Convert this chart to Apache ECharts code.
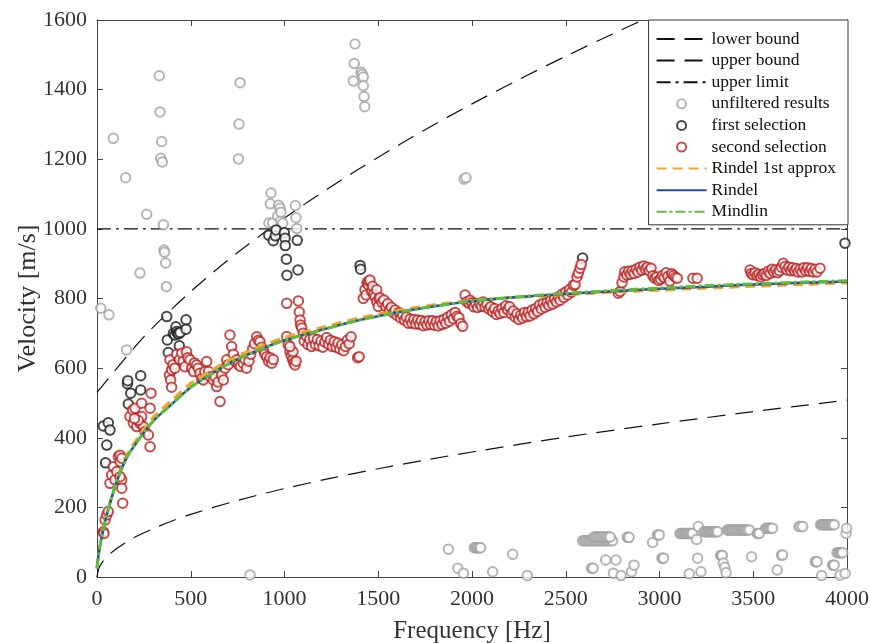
<!DOCTYPE html>
<html>
<head>
<meta charset="utf-8">
<script src="https://cdn.jsdelivr.net/npm/echarts@6/dist/echarts.min.js"></script>
<style>
  html, body { margin: 0; padding: 0; background: #fff; }
  #chart { width: 870px; height: 643px; }
</style>
</head>
<body>
<div id="chart"></div>
<script>
// curves
const boundFreq = [0, 10, 25, 50, 100, 150, 200, 300, 400, 500, 750, 1000, 1250, 1500, 1750, 2000, 2500, 3000, 3500, 4000]
const lowerBound = [0, 25, 40, 57, 80, 98, 114, 139, 161, 180, 220, 254, 284, 311, 336, 359, 402, 440, 475, 508]
const upperFreq = [0, 250, 500, 750, 1000, 1250, 1500, 1750, 2000, 2250, 2500, 2750, 3000]
const upperBound = [530, 690, 820, 932, 1031, 1122, 1206, 1285, 1359, 1429, 1496, 1560, 1622]
const upperLimit = [[0, 1000], [4000, 1000]]

const modelFreq = [0, 10, 25, 50, 100, 150, 200, 300, 400, 500, 600, 700, 800, 900, 1000, 1200, 1400, 1600, 1800, 2000, 2250, 2500, 2750, 3000, 3250, 3500, 3750, 4000]
const rindelApprox = [25, 70, 115, 176, 268, 340, 386, 458, 508, 556, 590, 622, 647, 668, 688, 717, 744, 765, 782, 794, 804, 811, 818, 824, 830, 835, 840, 845]
const rindel = [25, 70, 115, 175, 265, 335, 378, 448, 497, 545, 580, 612, 638, 660, 680, 710, 738, 760, 778, 792, 804, 813, 821, 828, 834, 840, 845, 849]
const mindlin = [25, 70, 115, 175, 265, 335, 378, 448, 497, 545, 580, 612, 638, 660, 680, 710, 738, 760, 778, 793, 805, 815, 823, 830, 837, 842, 847, 851]

// measured points [frequency, velocity]
const unfiltered = [
  [20, 772], [64, 753], [158, 652], [87, 1260], [153, 1147], [229, 873], [265, 1042],
  [332, 1440], [336, 1336], [345, 1251], [340, 1203], [348, 1192], [354, 1012], [357, 939], [360, 933], [366, 902], [370, 834],
  [754, 1201], [757, 1301], [763, 1420],
  [917, 1017], [924, 1072], [928, 1103], [937, 1017], [964, 1037], [969, 1068], [976, 1059], [980, 1023], [981, 1048], [990, 1016],
  [1058, 1067], [1061, 1032], [1065, 1001],
  [1367, 1425], [1372, 1475], [1376, 1531], [1408, 1450], [1415, 1444], [1420, 1436], [1420, 1411], [1424, 1380], [1428, 1351],
  [1957, 1143], [1968, 1147], [816, 6],
  [1874, 80], [1924, 25], [1954, 11], [2110, 15], [2217, 65], [2295, 4],
  [2012, 84], [2018, 84], [2024, 84], [2030, 84], [2036, 84], [2042, 84], [2046, 84],
  [2590, 104], [2598, 104], [2606, 104], [2614, 104], [2622, 104], [2630, 104], [2638, 104], [2646, 104], [2654, 104], [2662, 104],
  [2670, 104], [2678, 104], [2686, 104], [2694, 104], [2702, 104], [2710, 104], [2718, 104], [2726, 104], [2734, 104], [2742, 104], [2750, 104],
  [2650, 115], [2658, 115], [2666, 115], [2674, 115], [2682, 115], [2690, 115], [2698, 115], [2706, 115], [2714, 115], [2722, 115], [2730, 115], [2738, 115],
  [2637, 25], [2642, 25], [2646, 25], [2713, 49], [2754, 11], [2768, 49], [2795, 4],
  [2828, 114], [2833, 114], [2838, 114], [2851, 15], [2864, 34],
  [2963, 99], [2989, 121], [2994, 121], [2999, 121], [3013, 54], [3018, 54], [3022, 54],
  [3109, 125], [3115, 125], [3121, 125], [3127, 125], [3133, 125], [3139, 125], [3145, 125], [3151, 125], [3157, 125], [3163, 125], [3170, 125], [3177, 125],
  [3159, 9], [3198, 108], [3203, 54], [3207, 145], [3221, 15],
  [3237, 130], [3243, 130], [3249, 130], [3255, 130], [3261, 130], [3267, 130], [3273, 130], [3279, 130], [3285, 130], [3291, 130], [3297, 130], [3303, 130], [3310, 130],
  [3326, 62], [3331, 62], [3335, 62], [3340, 40], [3348, 28], [3355, 12],
  [3361, 135], [3367, 135], [3373, 135], [3379, 135], [3385, 135], [3391, 135], [3397, 135], [3403, 135], [3409, 135], [3415, 135],
  [3421, 135], [3427, 135], [3433, 135], [3439, 135], [3445, 135], [3451, 135], [3457, 135], [3463, 135], [3470, 135], [3479, 135],
  [3491, 58], [3522, 125], [3527, 125], [3532, 125],
  [3566, 140], [3572, 140], [3578, 140], [3584, 140], [3590, 140], [3596, 140], [3603, 140],
  [3628, 20], [3651, 63], [3656, 63], [3744, 145], [3752, 145], [3764, 145],
  [3831, 44], [3836, 44], [3840, 44],
  [3859, 150], [3865, 150], [3871, 150], [3877, 150], [3883, 150], [3889, 150], [3895, 150], [3901, 150], [3907, 150], [3913, 150], [3919, 150], [3925, 150], [3932, 150],
  [3865, 4], [3923, 34], [3928, 34], [3932, 34],
  [3947, 70], [3953, 70], [3959, 70], [3965, 70], [3971, 70], [3977, 70], [3963, 5], [3990, 10], [3995, 125], [3998, 140]
]

const firstSelection = [
  [34, 434], [46, 328], [52, 379], [60, 443], [69, 422], [162, 555], [164, 564], [167, 497], [180, 528], [233, 578], [233, 537],
  [372, 748], [375, 681], [380, 645], [407, 700], [415, 695], [421, 719], [425, 705], [430, 700], [435, 698], [443, 702], [439, 664],
  [475, 739], [475, 712],
  [916, 982], [940, 966], [951, 980], [955, 997], [999, 989], [1003, 973], [1004, 952], [1010, 913], [1013, 867], [1068, 967], [1072, 882],
  [1403, 895], [1406, 884], [2590, 916], [3989, 959]
]

const secondSelection = [
  [34, 130], [37, 125], [43, 164], [52, 178], [60, 188], [69, 269], [78, 293], [87, 317], [96, 279], [105, 303], [114, 346],
  [123, 331], [123, 350], [132, 341], [132, 279], [132, 255], [137, 212], [123, 288], [176, 461], [190, 480], [194, 442],
  [203, 485], [212, 432], [229, 442], [238, 461], [238, 499], [247, 432], [256, 418], [274, 408], [283, 374], [283, 485],
  [288, 528], [220, 450], [200, 455],
  [386, 580], [389, 624], [393, 566], [398, 595], [398, 545], [405, 610], [415, 600], [425, 640], [440, 625], [452, 643],
  [460, 620], [469, 604], [478, 647], [485, 630], [496, 624], [505, 600], [515, 590], [520, 615], [531, 609], [540, 600],
  [549, 585], [558, 570], [567, 566], [575, 590], [585, 619], [595, 590], [605, 575], [620, 566], [630, 575], [638, 547],
  [645, 560], [656, 504], [665, 580], [674, 566], [683, 600], [692, 624], [700, 610], [709, 695], [718, 662], [727, 640],
  [736, 620], [745, 624], [755, 610], [765, 605], [780, 614], [790, 625], [798, 600], [810, 620], [820, 640], [830, 655],
  [840, 670], [852, 690], [860, 680], [869, 676], [878, 660], [887, 652], [895, 640], [905, 633], [915, 620], [923, 630],
  [932, 614], [940, 625],
  [1012, 786], [1074, 793], [1079, 761], [1083, 738], [1086, 724], [1092, 715], [1100, 700], [1012, 691], [1020, 667],
  [1029, 647], [1036, 635], [1044, 624], [1050, 615], [1056, 609], [1062, 620], [1045, 647], [1029, 662],
  [1105, 678], [1115, 693], [1125, 668], [1135, 682], [1145, 662], [1155, 685], [1165, 668], [1175, 682], [1185, 664],
  [1195, 678], [1205, 660], [1215, 675], [1225, 688], [1235, 668], [1245, 680], [1255, 662], [1265, 676], [1275, 660],
  [1285, 672], [1295, 655], [1305, 667], [1315, 650], [1325, 662], [1335, 680], [1345, 670], [1355, 690], [1390, 630], [1398, 633],
  [1420, 800], [1429, 825], [1435, 810], [1440, 845], [1447, 839], [1450, 850], [1456, 853], [1465, 820], [1470, 835],
  [1475, 812], [1483, 805], [1492, 791], [1492, 825], [1500, 777], [1505, 800],
  [1510, 802], [1520, 789], [1530, 796], [1540, 777], [1550, 785], [1560, 767], [1570, 775], [1580, 759], [1590, 767],
  [1600, 751], [1610, 760], [1620, 744], [1630, 753], [1640, 738], [1650, 747], [1660, 729], [1670, 741], [1680, 729],
  [1690, 740], [1700, 727], [1710, 738], [1720, 726], [1730, 737], [1740, 722], [1750, 734], [1760, 724], [1770, 736],
  [1780, 725], [1790, 736], [1800, 723], [1810, 734], [1820, 721], [1830, 736], [1840, 725], [1850, 740], [1860, 729],
  [1870, 746], [1880, 735], [1890, 753], [1900, 742], [1910, 760], [1920, 749], [1930, 745], [1940, 728], [1950, 720],
  [1963, 810], [1972, 791], [1985, 786], [1990, 795],
  [2000, 788], [2010, 776], [2020, 786], [2030, 774], [2040, 786], [2050, 778], [2060, 790], [2070, 776], [2080, 784],
  [2090, 770], [2100, 776], [2110, 762], [2120, 771], [2130, 754], [2140, 764], [2150, 757], [2160, 771], [2170, 760],
  [2180, 779], [2190, 768], [2200, 776], [2210, 756], [2220, 764], [2230, 747], [2240, 756], [2250, 740], [2260, 752],
  [2270, 744], [2280, 760], [2290, 748], [2300, 760], [2310, 750], [2320, 767], [2330, 756], [2340, 771], [2350, 763],
  [2360, 781], [2370, 770], [2380, 786], [2390, 775], [2400, 788], [2410, 780], [2420, 794], [2430, 784], [2440, 799],
  [2450, 790], [2460, 804], [2470, 795], [2480, 812], [2490, 803], [2500, 819], [2510, 810], [2520, 826], [2530, 818],
  [2540, 838], [2550, 840], [2560, 862], [2567, 873], [2576, 887], [2582, 898],
  [2780, 815], [2790, 820], [2800, 845], [2810, 862], [2815, 877], [2825, 868], [2835, 878], [2845, 870], [2855, 880],
  [2865, 872], [2875, 884], [2885, 876], [2895, 890], [2905, 881], [2915, 893], [2925, 884], [2935, 890], [2945, 880],
  [2955, 887], [2965, 865], [2975, 858], [2985, 862], [2995, 852], [3005, 856], [3015, 866], [3025, 860], [3035, 874],
  [3045, 863], [3055, 850], [3065, 871], [3075, 866], [3085, 861], [3095, 858], [3178, 858], [3201, 858],
  [3483, 882], [3490, 872], [3500, 868], [3510, 874], [3520, 866], [3530, 870], [3540, 862], [3550, 868], [3560, 872],
  [3570, 866], [3580, 878], [3590, 872], [3600, 884], [3610, 876], [3620, 882], [3630, 874], [3640, 880], [3650, 890],
  [3660, 901], [3670, 892], [3680, 882], [3690, 890], [3700, 880], [3710, 888], [3720, 880], [3730, 886], [3740, 876],
  [3750, 884], [3760, 876], [3770, 888], [3780, 880], [3790, 888], [3800, 878], [3810, 886], [3820, 876], [3830, 884],
  [3840, 876], [3856, 887]
]

const xTicks = { min: 0, max: 4000, interval: 500 }
const yTicks = { min: 0, max: 1600, interval: 200 }

const serif = "'Liberation Serif', 'Times New Roman', serif"
const axisColor = '#444'

const zip = (xs, ys) => xs.map((x, i) => [x, ys[i]])

const chart = echarts.init(document.getElementById('chart'))

const boxAxis = (extra) => Object.assign({
  type: 'value',
  axisLine: { show: true, onZero: false, lineStyle: { color: axisColor, width: 1 } },
  axisTick: { show: true, inside: true, length: 6, lineStyle: { color: axisColor } },
  splitLine: { show: false },
}, extra)

const lineSeries = (name, data, color, width, type, z) => ({
  name,
  type: 'line',
  data,
  symbol: 'none',
  smooth: 0.3,
  z,
  lineStyle: { color, width, type },
  itemStyle: { color },
  emphasis: { disabled: true },
  animation: false,
})

const scatterSeries = (name, data, color, width, z) => ({
  name,
  type: 'scatter',
  data,
  symbol: 'emptyCircle',
  symbolSize: 9.5,
  z,
  itemStyle: { color, borderColor: color, borderWidth: width },
  emphasis: { disabled: true },
  animation: false,
})

const lineItem = (name) => ({ name, itemStyle: { opacity: 0 } })

const option = {
  backgroundColor: '#fff',
  animation: false,
  grid: { left: 97, right: 23, top: 20, bottom: 66, outerBoundsMode: 'none', containLabel: false },
  legend: {
    right: 22,
    top: 20,
    orient: 'vertical',
    align: 'left',
    backgroundColor: '#fff',
    borderColor: '#333',
    borderWidth: 1,
    borderRadius: 0,
    padding: [10, 12, 4, 7],
    itemWidth: 50,
    itemHeight: 9,
    itemGap: 3.6,
    textStyle: { fontFamily: serif, fontSize: 17.5, color: '#111', lineHeight: 16 },
    data: [
      lineItem('lower bound'), lineItem('upper bound'), lineItem('upper limit'),
      'unfiltered results', 'first selection', 'second selection',
      lineItem('Rindel 1st approx'), lineItem('Rindel'), lineItem('Mindlin'),
    ],
  },
  xAxis: [
    boxAxis(Object.assign({}, xTicks, {
      position: 'bottom',
      name: 'Frequency [Hz]',
      nameLocation: 'middle',
      nameGap: 42,
      nameMoveOverlap: false,
      nameTextStyle: { fontFamily: serif, fontSize: 25, color: '#333' },
      axisLabel: { fontFamily: serif, fontSize: 22, color: '#333', margin: 11, formatter: (v) => String(v) },
    })),
    boxAxis(Object.assign({}, xTicks, { position: 'top', axisLabel: { show: false } })),
  ],
  yAxis: [
    boxAxis(Object.assign({}, yTicks, {
      position: 'left',
      name: 'Velocity [m/s]',
      nameLocation: 'middle',
      nameGap: 56,
      nameMoveOverlap: false,
      nameTextStyle: { fontFamily: serif, fontSize: 26, color: '#333' },
      axisLabel: { fontFamily: serif, fontSize: 22, color: '#333', margin: 10, formatter: (v) => String(v) },
    })),
    boxAxis(Object.assign({}, yTicks, { position: 'right', axisLabel: { show: false } })),
  ],
  series: [
    lineSeries('lower bound', zip(boundFreq, lowerBound), '#111', 1.2, [18, 10], 2),
    lineSeries('upper bound', zip(upperFreq, upperBound), '#111', 1.2, [18, 10], 2),
    lineSeries('upper limit', upperLimit, '#111', 1.2, [14, 5, 3, 5], 2),
    scatterSeries('unfiltered results', unfiltered, '#a3a3a3', 1.4, 3),
    scatterSeries('first selection', firstSelection, '#1a1a1a', 1.4, 4),
    scatterSeries('second selection', secondSelection, '#b8201f', 1.7, 5),
    lineSeries('Rindel 1st approx', zip(modelFreq, rindelApprox), '#f6a22b', 3, [10, 6], 6),
    lineSeries('Rindel', zip(modelFreq, rindel), '#2b4c9e', 2.5, 'solid', 7),
    lineSeries('Mindlin', zip(modelFreq, mindlin), '#5cbf3c', 3, [10, 3, 3, 3], 8),
  ],
}

chart.setOption(option)
</script>
</body>
</html>
